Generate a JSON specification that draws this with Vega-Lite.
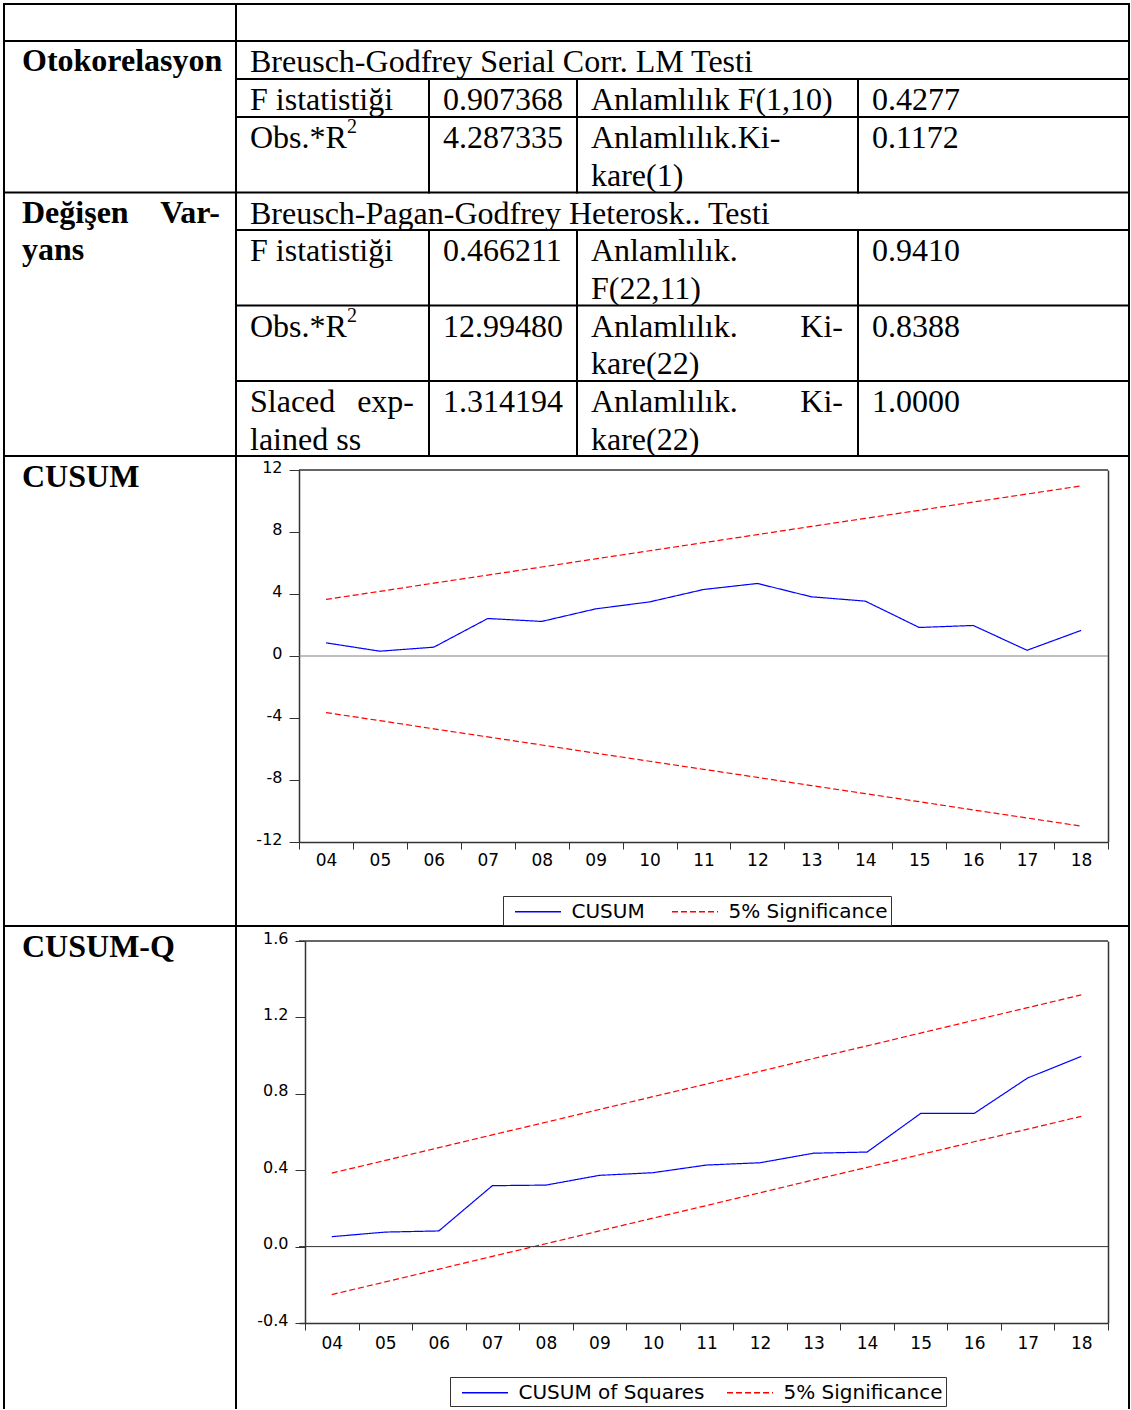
{
  "$schema": "https://vega.github.io/schema/vega-lite/v6.json",
  "background": "white",
  "padding": {"left": 2, "top": 2, "right": 0, "bottom": 0},
  "config": {"view": {"stroke": null}},
  "columns": 4,
  "bounds": "flush",
  "align": "each",
  "spacing": 0,
  "resolve": {"scale": {"color": "independent", "strokeDash": "independent"}, "legend": {"color": "independent", "strokeDash": "independent"}},
  "datasets": {
    "grid": [
      {"x1": 0, "x2": 5, "y1": 0, "y2": 0},
      {"x1": 0, "x2": 5, "y1": 1, "y2": 1},
      {"x1": 1, "x2": 5, "y1": 2, "y2": 2},
      {"x1": 1, "x2": 5, "y1": 3, "y2": 3},
      {"x1": 0, "x2": 5, "y1": 4, "y2": 4},
      {"x1": 1, "x2": 5, "y1": 5, "y2": 5},
      {"x1": 1, "x2": 5, "y1": 6, "y2": 6},
      {"x1": 1, "x2": 5, "y1": 7, "y2": 7},
      {"x1": 0, "x2": 5, "y1": 8, "y2": 8},
      {"x1": 0, "x2": 5, "y1": 9, "y2": 9},
      {"x1": 0, "x2": 0, "y1": 0, "y2": 10},
      {"x1": 1, "x2": 1, "y1": 0, "y2": 10},
      {"x1": 2, "x2": 2, "y1": 2, "y2": 4},
      {"x1": 2, "x2": 2, "y1": 5, "y2": 8},
      {"x1": 3, "x2": 3, "y1": 2, "y2": 4},
      {"x1": 3, "x2": 3, "y1": 5, "y2": 8},
      {"x1": 4, "x2": 4, "y1": 2, "y2": 4},
      {"x1": 4, "x2": 4, "y1": 5, "y2": 8},
      {"x1": 5, "x2": 5, "y1": 0, "y2": 10}
    ],
    "txt": [
      {"c": 1, "r": 1, "t": "Breusch-Godfrey Serial Corr. LM Testi"},
      {"c": 1, "r": 2, "t": "F istatistiği"},
      {"c": 2, "r": 2, "t": "0.907368"},
      {"c": 3, "r": 2, "t": "Anlamlılık F(1,10)"},
      {"c": 4, "r": 2, "t": "0.4277"},
      {"c": 1, "r": 3, "t": "Obs.*R"},
      {"c": 2, "r": 3, "t": "4.287335"},
      {"c": 3, "r": 3, "t": "Anlamlılık.Ki-\nkare(1)"},
      {"c": 4, "r": 3, "t": "0.1172"},
      {"c": 1, "r": 4, "t": "Breusch-Pagan-Godfrey Heterosk.. Testi"},
      {"c": 1, "r": 5, "t": "F istatistiği"},
      {"c": 2, "r": 5, "t": "0.466211"},
      {"c": 3, "r": 5, "t": "Anlamlılık.\nF(22,11)"},
      {"c": 4, "r": 5, "t": "0.9410"},
      {"c": 1, "r": 6, "t": "Obs.*R"},
      {"c": 2, "r": 6, "t": "12.99480"},
      {"c": 3, "r": 6, "t": "Anlamlılık.\nkare(22)"},
      {"c": 4, "r": 6, "t": "0.8388"},
      {"c": 1, "r": 7, "t": "Slaced\nlained ss"},
      {"c": 2, "r": 7, "t": "1.314194"},
      {"c": 3, "r": 7, "t": "Anlamlılık.\nkare(22)"},
      {"c": 4, "r": 7, "t": "1.0000"}
    ],
    "txtR": [
      {"c": 2, "r": 7, "t": "exp-"},
      {"c": 4, "r": 6, "t": "Ki-"},
      {"c": 4, "r": 7, "t": "Ki-"}
    ],
    "txtB": [
      {"c": 0, "r": 1, "t": "Otokorelasyon"},
      {"c": 0, "r": 4, "t": "Değişen\nyans"}
    ],
    "txtBR": [
      {"c": 1, "r": 4, "t": "Var-"}
    ],
    "sup": [
      {"c": 1, "r": 3, "t": "2"},
      {"c": 1, "r": 6, "t": "2"}
    ],
    "cusum": [
      {"t": "04", "s": "CUSUM", "k": "c", "v": 0.85},
      {"t": "05", "s": "CUSUM", "k": "c", "v": 0.31},
      {"t": "06", "s": "CUSUM", "k": "c", "v": 0.57},
      {"t": "07", "s": "CUSUM", "k": "c", "v": 2.42},
      {"t": "08", "s": "CUSUM", "k": "c", "v": 2.23},
      {"t": "09", "s": "CUSUM", "k": "c", "v": 3.04},
      {"t": "10", "s": "CUSUM", "k": "c", "v": 3.49},
      {"t": "11", "s": "CUSUM", "k": "c", "v": 4.29},
      {"t": "12", "s": "CUSUM", "k": "c", "v": 4.68},
      {"t": "13", "s": "CUSUM", "k": "c", "v": 3.82},
      {"t": "14", "s": "CUSUM", "k": "c", "v": 3.54},
      {"t": "15", "s": "CUSUM", "k": "c", "v": 1.84},
      {"t": "16", "s": "CUSUM", "k": "c", "v": 1.97},
      {"t": "17", "s": "CUSUM", "k": "c", "v": 0.37},
      {"t": "18", "s": "CUSUM", "k": "c", "v": 1.65},
      {"t": "04", "s": "5% Significance", "k": "u", "v": 3.65},
      {"t": "05", "s": "5% Significance", "k": "u", "v": 4.17},
      {"t": "06", "s": "5% Significance", "k": "u", "v": 4.70},
      {"t": "07", "s": "5% Significance", "k": "u", "v": 5.22},
      {"t": "08", "s": "5% Significance", "k": "u", "v": 5.74},
      {"t": "09", "s": "5% Significance", "k": "u", "v": 6.27},
      {"t": "10", "s": "5% Significance", "k": "u", "v": 6.79},
      {"t": "11", "s": "5% Significance", "k": "u", "v": 7.31},
      {"t": "12", "s": "5% Significance", "k": "u", "v": 7.83},
      {"t": "13", "s": "5% Significance", "k": "u", "v": 8.36},
      {"t": "14", "s": "5% Significance", "k": "u", "v": 8.88},
      {"t": "15", "s": "5% Significance", "k": "u", "v": 9.40},
      {"t": "16", "s": "5% Significance", "k": "u", "v": 9.93},
      {"t": "17", "s": "5% Significance", "k": "u", "v": 10.45},
      {"t": "18", "s": "5% Significance", "k": "u", "v": 10.97},
      {"t": "04", "s": "5% Significance", "k": "l", "v": -3.65},
      {"t": "05", "s": "5% Significance", "k": "l", "v": -4.17},
      {"t": "06", "s": "5% Significance", "k": "l", "v": -4.70},
      {"t": "07", "s": "5% Significance", "k": "l", "v": -5.22},
      {"t": "08", "s": "5% Significance", "k": "l", "v": -5.74},
      {"t": "09", "s": "5% Significance", "k": "l", "v": -6.27},
      {"t": "10", "s": "5% Significance", "k": "l", "v": -6.79},
      {"t": "11", "s": "5% Significance", "k": "l", "v": -7.31},
      {"t": "12", "s": "5% Significance", "k": "l", "v": -7.83},
      {"t": "13", "s": "5% Significance", "k": "l", "v": -8.36},
      {"t": "14", "s": "5% Significance", "k": "l", "v": -8.88},
      {"t": "15", "s": "5% Significance", "k": "l", "v": -9.40},
      {"t": "16", "s": "5% Significance", "k": "l", "v": -9.93},
      {"t": "17", "s": "5% Significance", "k": "l", "v": -10.45},
      {"t": "18", "s": "5% Significance", "k": "l", "v": -10.97}
    ],
    "cusumq": [
      {"t": "04", "s": "CUSUM of Squares", "k": "c", "v": 0.052},
      {"t": "05", "s": "CUSUM of Squares", "k": "c", "v": 0.076},
      {"t": "06", "s": "CUSUM of Squares", "k": "c", "v": 0.082},
      {"t": "07", "s": "CUSUM of Squares", "k": "c", "v": 0.319},
      {"t": "08", "s": "CUSUM of Squares", "k": "c", "v": 0.322},
      {"t": "09", "s": "CUSUM of Squares", "k": "c", "v": 0.373},
      {"t": "10", "s": "CUSUM of Squares", "k": "c", "v": 0.387},
      {"t": "11", "s": "CUSUM of Squares", "k": "c", "v": 0.427},
      {"t": "12", "s": "CUSUM of Squares", "k": "c", "v": 0.439},
      {"t": "13", "s": "CUSUM of Squares", "k": "c", "v": 0.489},
      {"t": "14", "s": "CUSUM of Squares", "k": "c", "v": 0.495},
      {"t": "15", "s": "CUSUM of Squares", "k": "c", "v": 0.697},
      {"t": "16", "s": "CUSUM of Squares", "k": "c", "v": 0.697},
      {"t": "17", "s": "CUSUM of Squares", "k": "c", "v": 0.883},
      {"t": "18", "s": "CUSUM of Squares", "k": "c", "v": 0.996},
      {"t": "04", "s": "5% Significance", "k": "u", "v": 0.385},
      {"t": "05", "s": "5% Significance", "k": "u", "v": 0.451},
      {"t": "06", "s": "5% Significance", "k": "u", "v": 0.518},
      {"t": "07", "s": "5% Significance", "k": "u", "v": 0.585},
      {"t": "08", "s": "5% Significance", "k": "u", "v": 0.651},
      {"t": "09", "s": "5% Significance", "k": "u", "v": 0.718},
      {"t": "10", "s": "5% Significance", "k": "u", "v": 0.785},
      {"t": "11", "s": "5% Significance", "k": "u", "v": 0.851},
      {"t": "12", "s": "5% Significance", "k": "u", "v": 0.918},
      {"t": "13", "s": "5% Significance", "k": "u", "v": 0.985},
      {"t": "14", "s": "5% Significance", "k": "u", "v": 1.051},
      {"t": "15", "s": "5% Significance", "k": "u", "v": 1.118},
      {"t": "16", "s": "5% Significance", "k": "u", "v": 1.185},
      {"t": "17", "s": "5% Significance", "k": "u", "v": 1.251},
      {"t": "18", "s": "5% Significance", "k": "u", "v": 1.318},
      {"t": "04", "s": "5% Significance", "k": "l", "v": -0.251},
      {"t": "05", "s": "5% Significance", "k": "l", "v": -0.185},
      {"t": "06", "s": "5% Significance", "k": "l", "v": -0.118},
      {"t": "07", "s": "5% Significance", "k": "l", "v": -0.051},
      {"t": "08", "s": "5% Significance", "k": "l", "v": 0.015},
      {"t": "09", "s": "5% Significance", "k": "l", "v": 0.082},
      {"t": "10", "s": "5% Significance", "k": "l", "v": 0.149},
      {"t": "11", "s": "5% Significance", "k": "l", "v": 0.215},
      {"t": "12", "s": "5% Significance", "k": "l", "v": 0.282},
      {"t": "13", "s": "5% Significance", "k": "l", "v": 0.349},
      {"t": "14", "s": "5% Significance", "k": "l", "v": 0.415},
      {"t": "15", "s": "5% Significance", "k": "l", "v": 0.482},
      {"t": "16", "s": "5% Significance", "k": "l", "v": 0.549},
      {"t": "17", "s": "5% Significance", "k": "l", "v": 0.615},
      {"t": "18", "s": "5% Significance", "k": "l", "v": 0.682}
    ]
  },
  "concat": [
    {
      "width": 232,
      "height": 452,
      "layer": [
        {
          "data": {"name": "grid"},
          "mark": {"type": "rule", "color": "black", "strokeWidth": 2, "strokeCap": "square"},
          "encoding": {
            "x": {"field": "x1", "type": "quantitative", "scale": {"domain": [0, 1, 2, 3, 4, 5], "range": [0, 232, 425, 573, 854, 1125]}, "axis": null},
            "x2": {"field": "x2"},
            "y": {"field": "y1", "type": "quantitative", "scale": {"domain": [0, 1, 2, 3, 4, 5, 6, 7, 8, 9, 10], "range": [0, 37, 75, 113, 188.5, 226, 301.5, 377, 452, 922, 1404]}, "axis": null},
            "y2": {"field": "y2"}
          }
        },
        {
          "data": {"name": "txt"},
          "mark": {"type": "text", "align": "left", "baseline": "alphabetic", "dx": 14, "dy": 31, "font": "Liberation Serif", "fontSize": 32, "lineBreak": "\n", "lineHeight": 37.5, "color": "black"},
          "encoding": {
            "x": {"field": "c", "type": "quantitative", "scale": {"domain": [0, 1, 2, 3, 4, 5], "range": [0, 232, 425, 573, 854, 1125]}, "axis": null},
            "y": {"field": "r", "type": "quantitative", "scale": {"domain": [0, 1, 2, 3, 4, 5, 6, 7, 8, 9, 10], "range": [0, 37, 75, 113, 188.5, 226, 301.5, 377, 452, 922, 1404]}, "axis": null},
            "text": {"field": "t", "type": "nominal"}
          }
        },
        {
          "data": {"name": "txtR"},
          "mark": {"type": "text", "align": "right", "baseline": "alphabetic", "dx": -15, "dy": 31, "font": "Liberation Serif", "fontSize": 32, "color": "black"},
          "encoding": {
            "x": {"field": "c", "type": "quantitative", "scale": {"domain": [0, 1, 2, 3, 4, 5], "range": [0, 232, 425, 573, 854, 1125]}, "axis": null},
            "y": {"field": "r", "type": "quantitative", "scale": {"domain": [0, 1, 2, 3, 4, 5, 6, 7, 8, 9, 10], "range": [0, 37, 75, 113, 188.5, 226, 301.5, 377, 452, 922, 1404]}, "axis": null},
            "text": {"field": "t", "type": "nominal"}
          }
        },
        {
          "data": {"name": "txtB"},
          "mark": {"type": "text", "align": "left", "baseline": "alphabetic", "dx": 18, "dy": 30, "font": "Liberation Serif", "fontSize": 32, "fontWeight": "bold", "lineBreak": "\n", "lineHeight": 37.5, "color": "black"},
          "encoding": {
            "x": {"field": "c", "type": "quantitative", "scale": {"domain": [0, 1, 2, 3, 4, 5], "range": [0, 232, 425, 573, 854, 1125]}, "axis": null},
            "y": {"field": "r", "type": "quantitative", "scale": {"domain": [0, 1, 2, 3, 4, 5, 6, 7, 8, 9, 10], "range": [0, 37, 75, 113, 188.5, 226, 301.5, 377, 452, 922, 1404]}, "axis": null},
            "text": {"field": "t", "type": "nominal"}
          }
        },
        {
          "data": {"name": "txtBR"},
          "mark": {"type": "text", "align": "right", "baseline": "alphabetic", "dx": -16, "dy": 30, "font": "Liberation Serif", "fontSize": 32, "fontWeight": "bold", "color": "black"},
          "encoding": {
            "x": {"field": "c", "type": "quantitative", "scale": {"domain": [0, 1, 2, 3, 4, 5], "range": [0, 232, 425, 573, 854, 1125]}, "axis": null},
            "y": {"field": "r", "type": "quantitative", "scale": {"domain": [0, 1, 2, 3, 4, 5, 6, 7, 8, 9, 10], "range": [0, 37, 75, 113, 188.5, 226, 301.5, 377, 452, 922, 1404]}, "axis": null},
            "text": {"field": "t", "type": "nominal"}
          }
        },
        {
          "data": {"name": "sup"},
          "mark": {"type": "text", "align": "left", "baseline": "alphabetic", "dx": 111, "dy": 16, "font": "Liberation Serif", "fontSize": 20, "color": "black"},
          "encoding": {
            "x": {"field": "c", "type": "quantitative", "scale": {"domain": [0, 1, 2, 3, 4, 5], "range": [0, 232, 425, 573, 854, 1125]}, "axis": null},
            "y": {"field": "r", "type": "quantitative", "scale": {"domain": [0, 1, 2, 3, 4, 5, 6, 7, 8, 9, 10], "range": [0, 37, 75, 113, 188.5, 226, 301.5, 377, 452, 922, 1404]}, "axis": null},
            "text": {"field": "t", "type": "nominal"}
          }
        }
      ]
    },
    {"width": 63, "height": 1, "data": {"values": []}, "mark": "rule", "encoding": {}},
    {"width": 809, "height": 1, "data": {"values": []}, "mark": "rule", "encoding": {}},
    {"width": 21, "height": 1, "data": {"values": []}, "mark": "rule", "encoding": {}},
    {
      "width": 232,
      "height": 470,
      "data": {"values": [{"t": "CUSUM"}]},
      "mark": {"type": "text", "align": "left", "baseline": "alphabetic", "dx": 18, "dy": 30.5, "font": "Liberation Serif", "fontSize": 32, "fontWeight": "bold", "color": "black"},
      "encoding": {
        "x": {"datum": 0, "type": "quantitative", "scale": {"domain": [0, 1]}, "axis": null},
        "y": {"datum": 1, "type": "quantitative", "scale": {"domain": [0, 1]}, "axis": null},
        "text": {"field": "t", "type": "nominal"}
      }
    },
    {"width": 63, "height": 1, "data": {"values": []}, "mark": "rule", "encoding": {}},
    {
      "width": 809,
      "height": 386,
      "resolve": {"axis": {"y": "independent"}},
      "layer": [
        {
          "data": {"name": "cusum"},
          "mark": {"type": "line", "strokeWidth": 1.2},
          "encoding": {
            "x": {"field": "t", "type": "ordinal", "bandPosition": 0.5, "scale": {"type": "band", "paddingInner": 0, "paddingOuter": 0},
              "axis": {"tickBand": "extent", "title": null, "labelAngle": 0, "tickSize": 7, "tickColor": "#333333", "domainColor": "#333333", "domainWidth": 1.5, "labelPadding": 3, "labelFont": "DejaVu Sans", "labelFontSize": 17, "labelColor": "black", "grid": false}},
            "y": {"field": "v", "type": "quantitative", "scale": {"domain": [-12, 12], "range": [386, 14], "zero": false, "nice": false},
              "axis": {"values": [-12, -8, -4, 0, 4, 8, 12], "format": "d", "labelExpr": "replace(datum.label, '\u2212', '-')", "title": null, "grid": false, "tickSize": 10, "tickColor": "#333333", "domainColor": "#333333", "domainWidth": 1.5, "labelPadding": 7, "labelOffset": -3, "labelFont": "DejaVu Sans", "labelFontSize": 16, "labelColor": "black", "labelFlush": false, "labelOverlap": false}},
            "color": {"field": "s", "type": "nominal", "scale": {"domain": ["CUSUM", "5% Significance"], "range": ["#0000ff", "#ff0000"]},
              "legend": {"orient": "none", "legendX": 204, "legendY": 440, "direction": "horizontal", "title": null, "strokeColor": "#333333", "padding": 3, "symbolType": "M-2,0H2", "symbolSize": 529, "symbolOffset": 19.5, "symbolStrokeWidth": 1.5, "labelOffset": 21, "columnPadding": 18, "labelFont": "DejaVu Sans", "labelFontSize": 20, "labelColor": "black", "labelLimit": 400}},
            "strokeDash": {"field": "s", "type": "nominal", "scale": {"domain": ["CUSUM", "5% Significance"], "range": [[1, 0], [6, 3]]},
              "legend": {"orient": "none", "legendX": 204, "legendY": 440, "direction": "horizontal", "title": null, "strokeColor": "#333333", "padding": 3, "symbolType": "M-2,0H2", "symbolSize": 529, "symbolOffset": 19.5, "symbolStrokeWidth": 1.5, "labelOffset": 21, "columnPadding": 18, "labelFont": "DejaVu Sans", "labelFontSize": 20, "labelColor": "black", "labelLimit": 400}},
            "detail": {"field": "k", "type": "nominal"}
          }
        },
        {
          "data": {"values": [{}]},
          "mark": {"type": "rule", "color": "#808080", "strokeWidth": 1.2},
          "encoding": {"y": {"datum": 0, "axis": null}}
        },
        {
          "data": {"values": [{}]},
          "mark": {"type": "rule", "color": "#333333", "strokeWidth": 1.5},
          "encoding": {"y": {"datum": 12, "axis": {"orient": "right", "labels": false, "ticks": false, "domain": true, "domainColor": "#333333", "domainWidth": 1.5, "grid": false, "title": null}}}
        }
      ]
    },
    {"width": 21, "height": 1, "data": {"values": []}, "mark": "rule", "encoding": {}},
    {
      "width": 232,
      "height": 484,
      "data": {"values": [{"t": "CUSUM-Q"}]},
      "mark": {"type": "text", "align": "left", "baseline": "alphabetic", "dx": 18, "dy": 31, "font": "Liberation Serif", "fontSize": 32, "fontWeight": "bold", "color": "black"},
      "encoding": {
        "x": {"datum": 0, "type": "quantitative", "scale": {"domain": [0, 1]}, "axis": null},
        "y": {"datum": 1, "type": "quantitative", "scale": {"domain": [0, 1]}, "axis": null},
        "text": {"field": "t", "type": "nominal"}
      }
    },
    {"width": 63, "height": 1, "data": {"values": []}, "mark": "rule", "encoding": {}},
    {
      "width": 809,
      "height": 397,
      "resolve": {"axis": {"y": "independent"}},
      "layer": [
        {
          "data": {"name": "cusumq"},
          "mark": {"type": "line", "strokeWidth": 1.2},
          "encoding": {
            "x": {"field": "t", "type": "ordinal", "bandPosition": 0.5, "scale": {"type": "band", "paddingInner": 0, "paddingOuter": 0.056, "align": 1},
              "axis": {"tickBand": "extent", "title": null, "labelAngle": 0, "tickSize": 7, "tickColor": "#333333", "domainColor": "#333333", "domainWidth": 1.5, "labelPadding": 5, "labelFont": "DejaVu Sans", "labelFontSize": 17, "labelColor": "black", "grid": false}},
            "y": {"field": "v", "type": "quantitative", "scale": {"domain": [-0.4, 1.6], "range": [397, 15], "zero": false, "nice": false},
              "axis": {"offset": -6, "values": [-0.4, 0, 0.4, 0.8, 1.2, 1.6], "format": ".1f", "labelExpr": "replace(datum.label, '\u2212', '-')", "title": null, "grid": false, "tickSize": 10, "tickColor": "#333333", "domainColor": "#333333", "domainWidth": 1.5, "labelPadding": 7, "labelOffset": -3, "labelFont": "DejaVu Sans", "labelFontSize": 16, "labelColor": "black", "labelFlush": false, "labelOverlap": false}},
            "color": {"field": "s", "type": "nominal", "scale": {"domain": ["CUSUM of Squares", "5% Significance"], "range": ["#0000ff", "#ff0000"]},
              "legend": {"orient": "none", "legendX": 151, "legendY": 451, "direction": "horizontal", "title": null, "strokeColor": "#333333", "padding": 3, "symbolType": "M-2,0H2", "symbolSize": 529, "symbolOffset": 19.5, "symbolStrokeWidth": 1.5, "labelOffset": 21, "columnPadding": 13, "labelFont": "DejaVu Sans", "labelFontSize": 20, "labelColor": "black", "labelLimit": 400}},
            "strokeDash": {"field": "s", "type": "nominal", "scale": {"domain": ["CUSUM of Squares", "5% Significance"], "range": [[1, 0], [6, 3]]},
              "legend": {"orient": "none", "legendX": 151, "legendY": 451, "direction": "horizontal", "title": null, "strokeColor": "#333333", "padding": 3, "symbolType": "M-2,0H2", "symbolSize": 529, "symbolOffset": 19.5, "symbolStrokeWidth": 1.5, "labelOffset": 21, "columnPadding": 13, "labelFont": "DejaVu Sans", "labelFontSize": 20, "labelColor": "black", "labelLimit": 400}},
            "detail": {"field": "k", "type": "nominal"}
          }
        },
        {
          "data": {"values": [{}]},
          "mark": {"type": "rule", "color": "#333333", "strokeWidth": 1},
          "encoding": {"y": {"datum": 0, "axis": null}}
        },
        {
          "data": {"values": [{}]},
          "mark": {"type": "rule", "color": "#333333", "strokeWidth": 1.5},
          "encoding": {"y": {"datum": 1.6, "axis": {"orient": "right", "labels": false, "ticks": false, "domain": true, "domainColor": "#333333", "domainWidth": 1.5, "grid": false, "title": null}}}
        }
      ]
    },
    {"width": 21, "height": 1, "data": {"values": []}, "mark": "rule", "encoding": {}}
  ]
}
